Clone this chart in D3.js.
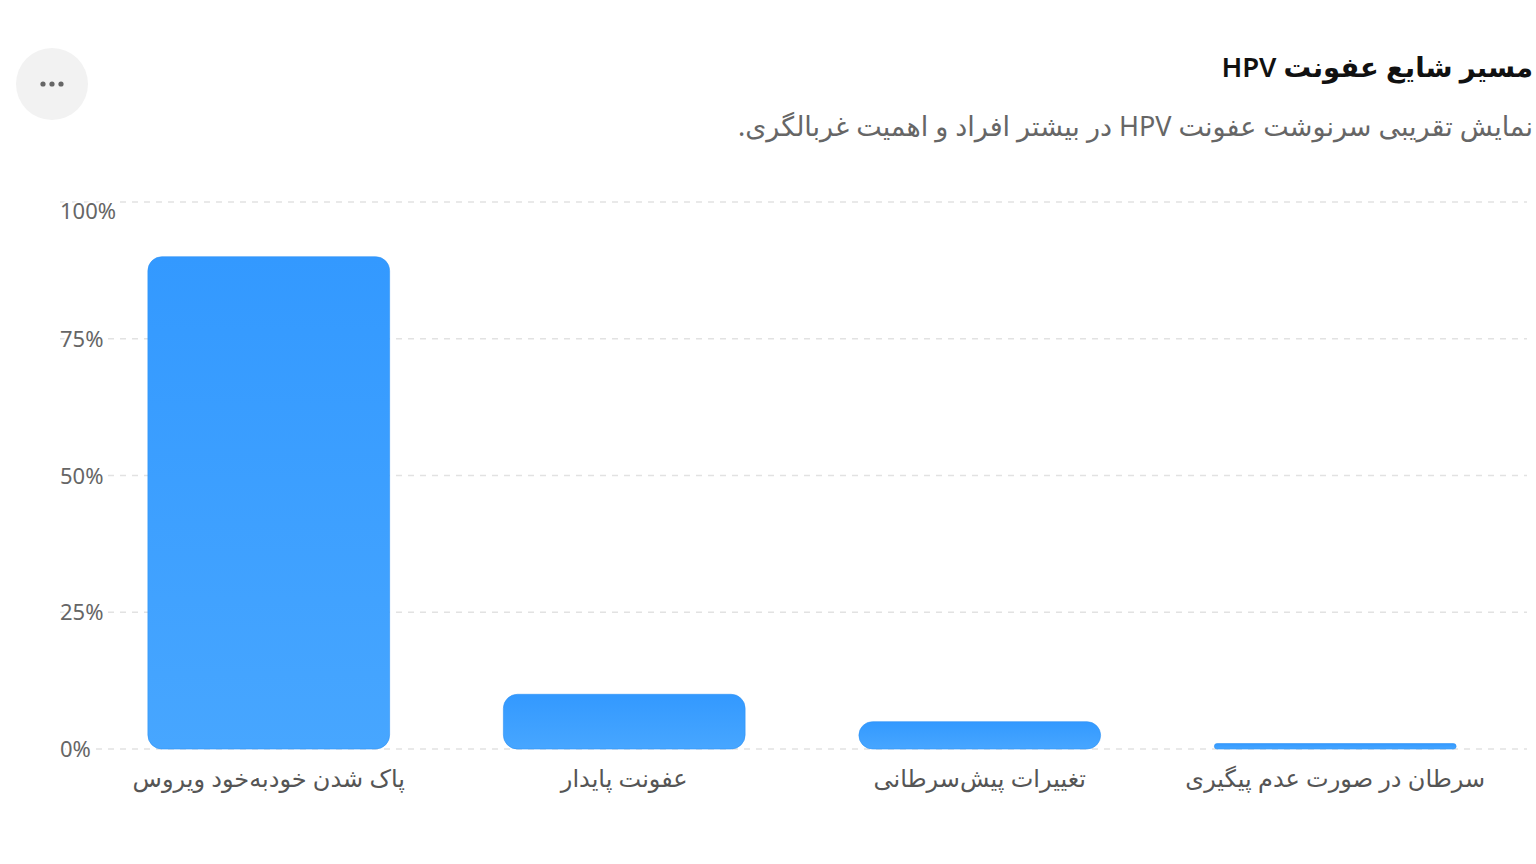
<!DOCTYPE html>
<html lang="fa">
<head>
<meta charset="utf-8">
<script src="https://cdn.jsdelivr.net/npm/d3@7"></script>
<style>
  html, body { margin: 0; padding: 0; background: #fff; }
  svg { display: block; font-family: "Noto Sans", "DejaVu Sans", sans-serif; }
</style>
</head>
<body>
<svg id="chart" width="1536" height="864"></svg>
<script>
// chart data
var categories = ["پاک شدن خودبه‌خود ویروس", "عفونت پایدار", "تغییرات پیش‌سرطانی", "سرطان در صورت عدم پیگیری"];
var values = [90, 10, 5, 1];
var yTicks = [0, 25, 50, 75, 100];
var titleText = "مسیر شایع عفونت HPV";
var subtitleText = "نمایش تقریبی سرنوشت عفونت HPV در بیشتر افراد و اهمیت غربالگری.";

var svg = d3.select("#chart");

// gradient for bars
var defs = svg.append("defs");
var grad = defs.append("linearGradient")
    .attr("id", "barGrad")
    .attr("x1", 0).attr("y1", 0).attr("x2", 0).attr("y2", 1);
grad.append("stop").attr("offset", "0%").attr("stop-color", "#3399ff");
grad.append("stop").attr("offset", "100%").attr("stop-color", "#47a6ff");

// title + subtitle, right aligned (rtl: "start" is the right edge)
svg.append("text")
    .attr("x", 1533).attr("y", 77)
    .attr("text-anchor", "start")
    .attr("direction", "rtl")
    .style("font-size", "27.5px")
    .style("font-weight", "600")
    .style("fill", "#111")
    .text(titleText);

svg.append("text")
    .attr("x", 1533).attr("y", 136)
    .attr("text-anchor", "start")
    .attr("direction", "rtl")
    .style("font-size", "27px")
    .style("fill", "#666")
    .text(subtitleText);

// menu button
var menu = svg.append("g").attr("transform", "translate(52,84)");
menu.append("circle").attr("r", 36).style("fill", "#f2f2f2");
[-9, 0, 9].forEach(function (dx) {
    menu.append("circle").attr("cx", dx).attr("r", 2.6).style("fill", "#666");
});

// scales
var x = d3.scaleBand()
    .domain(categories)
    .range([91, 1513])
    .paddingInner(0.32)
    .paddingOuter(0.16);

var y = d3.scaleLinear()
    .domain([0, 100])
    .range([749, 202]);

// grid lines
var grid = svg.append("g");
grid.selectAll("line")
    .data(yTicks)
    .enter().append("line")
    .attr("x1", 60).attr("x2", 1527)
    .attr("y1", function (d) { return y(d); })
    .attr("y2", function (d) { return y(d); })
    .style("stroke", "#e2e2e2")
    .style("stroke-width", 1.5)
    .style("stroke-dasharray", "6,6");

// y axis labels (white halo hides the grid under them)
var yAxis = d3.axisLeft(y)
    .tickValues(yTicks)
    .tickFormat(function (d) { return d + "%"; })
    .tickSize(0);

var yg = svg.append("g").attr("transform", "translate(60,0)").call(yAxis);
yg.select(".domain").remove();
yg.selectAll("text")
    .attr("x", 0)
    .attr("text-anchor", "start")
    .attr("dy", function (d) { return d === 100 ? "0.75em" : "0.35em"; })
    .style("font-family", "\"Noto Sans\", \"DejaVu Sans\", sans-serif")
    .style("font-size", "22px")
    .style("fill", "#666")
    .style("stroke", "#fff")
    .style("stroke-width", 4)
    .style("paint-order", "stroke");

// bars with rounded corners
function barPath(d, i) {
    var x0 = x(categories[i]);
    var w = x.bandwidth();
    var y0 = y(d);
    var h = y(0) - y0;
    var r = Math.min(14, h / 2, w / 2);
    var p = d3.path();
    p.moveTo(x0 + r, y0);
    p.lineTo(x0 + w - r, y0);
    p.arcTo(x0 + w, y0, x0 + w, y0 + r, r);
    p.lineTo(x0 + w, y0 + h - r);
    p.arcTo(x0 + w, y0 + h, x0 + w - r, y0 + h, r);
    p.lineTo(x0 + r, y0 + h);
    p.arcTo(x0, y0 + h, x0, y0 + h - r, r);
    p.lineTo(x0, y0 + r);
    p.arcTo(x0, y0, x0 + r, y0, r);
    p.closePath();
    return p.toString();
}

svg.append("g").selectAll("path")
    .data(values)
    .enter().append("path")
    .attr("d", barPath)
    .style("fill", "url(#barGrad)")
    .style("stroke", "#2f93f5")
    .style("stroke-opacity", 0.6)
    .style("stroke-width", 1);

// x axis labels
var xAxis = d3.axisBottom(x).tickSize(0);
var xg = svg.append("g").attr("transform", "translate(0,749)").call(xAxis);
xg.select(".domain").remove();
xg.selectAll("text")
    .attr("y", 38)
    .attr("dy", 0)
    .style("font-family", "\"Noto Sans\", \"DejaVu Sans\", sans-serif")
    .style("font-size", "24px")
    .style("fill", "#555");
</script>
</body>
</html>
